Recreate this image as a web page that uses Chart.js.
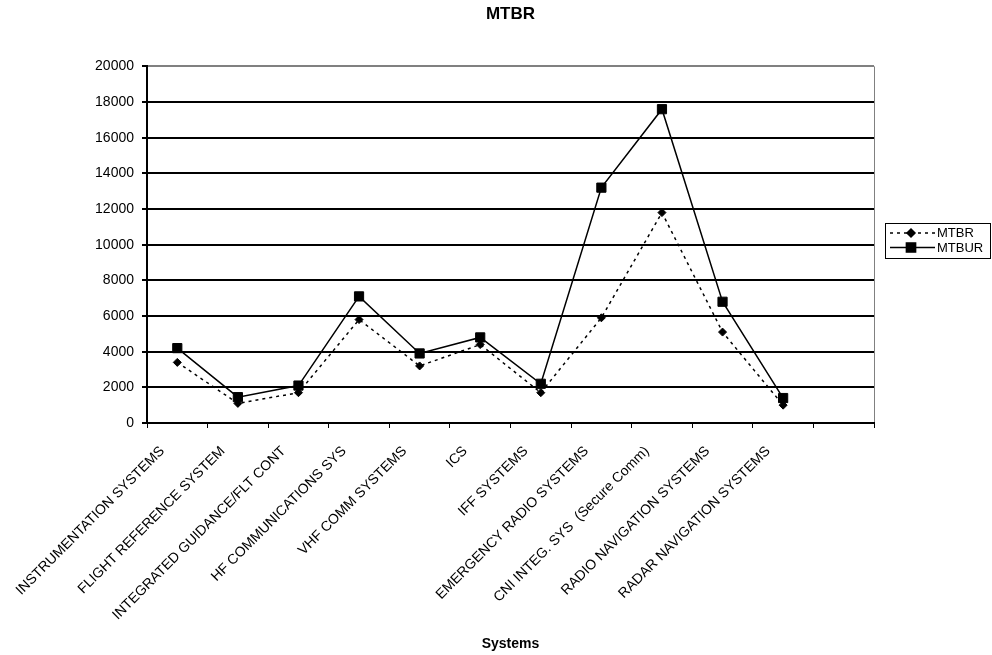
<!DOCTYPE html>
<html lang="en">
<head>
    <meta charset="UTF-8">
    <title>MTBR</title>
    <script src="https://cdn.jsdelivr.net/npm/chart.js"></script>
    <style>
        body {
            margin: 0;
            background: #fff;
        }
        .chart-box {
            width: 992px;
            height: 655px;
        }
    </style>
</head>
<body>
    <div class="chart-box">
        <canvas id="mtbrChart"></canvas>
    </div>

    <script>
        // Systems on the x axis (last slot is left empty)
        const systems = [
            'INSTRUMENTATION SYSTEMS',
            'FLIGHT REFERENCE SYSTEM',
            'INTEGRATED GUIDANCE/FLT CONT',
            'HF COMMUNICATIONS SYS',
            'VHF COMM SYSTEMS',
            'ICS',
            'IFF SYSTEMS',
            'EMERGENCY RADIO SYSTEMS',
            'CNI INTEG. SYS  (Secure Comm)',
            'RADIO NAVIGATION SYSTEMS',
            'RADAR NAVIGATION SYSTEMS',
            ''
        ];

        const mtbr  = [3400, 1100, 1700, 5800, 3200, 4400, 1700, 5900, 11800, 5100, 1000];
        const mtbur = [4200, 1450, 2100, 7100, 3900, 4800, 2200, 13200, 17600, 6800, 1400];

        const yMax = 20000;
        const yStep = 2000;

        const FONT = '"Liberation Sans", Arial, sans-serif';
        const FRAME_GRAY = '#808080';

        // Boxed legend on the right, each entry shows line style + marker
        const boxedLegend = {
            id: 'boxedLegend',
            afterDraw(chart) {
                const ctx = chart.ctx;
                const area = chart.chartArea;
                const x = area.right + 11;
                const y = 223;
                const w = 105;
                const h = 35;
                ctx.save();
                ctx.strokeStyle = '#000';
                ctx.lineWidth = 1;
                ctx.strokeRect(x + 0.5, y + 0.5, w, h);

                chart.data.datasets.forEach((ds, i) => {
                    const rowY = y + 10 + i * 14.5;
                    ctx.beginPath();
                    ctx.setLineDash(ds.borderDash || []);
                    ctx.lineWidth = ds.borderWidth;
                    ctx.strokeStyle = ds.borderColor;
                    ctx.moveTo(x + 5, rowY);
                    ctx.lineTo(x + 50, rowY);
                    ctx.stroke();
                    ctx.setLineDash([]);
                    Chart.helpers.drawPoint(ctx, {
                        pointStyle: ds.pointStyle,
                        radius: ds.pointRadius,
                        borderWidth: 1
                    }, x + 26, rowY);
                    ctx.fillStyle = '#000';
                    ctx.font = '13px ' + FONT;
                    ctx.textBaseline = 'middle';
                    ctx.textAlign = 'left';
                    ctx.fillText(ds.label, x + 52, rowY + 0.5);
                });
                ctx.restore();
            }
        };

        function initChart() {
            const ctx = document.getElementById('mtbrChart').getContext('2d');
            new Chart(ctx, {
                type: 'line',
                data: {
                    labels: systems,
                    datasets: [{
                        label: 'MTBR',
                        data: mtbr,
                        borderColor: '#000',
                        backgroundColor: '#000',
                        borderWidth: 1.5,
                        borderDash: [3, 4],
                        pointStyle: 'rectRot',
                        pointRadius: 4,
                        pointBorderWidth: 1,
                        tension: 0,
                        order: 1
                    }, {
                        label: 'MTBUR',
                        data: mtbur,
                        borderColor: '#000',
                        backgroundColor: '#000',
                        borderWidth: 1.5,
                        pointStyle: 'rect',
                        pointRadius: 6.5,
                        pointBorderWidth: 1,
                        tension: 0,
                        order: 0
                    }]
                },
                options: {
                    responsive: true,
                    maintainAspectRatio: false,
                    animation: false,
                    layout: {
                        padding: { right: 118 }
                    },
                    plugins: {
                        legend: { display: false },
                        tooltip: { enabled: false },
                        title: {
                            display: true,
                            text: 'MTBR',
                            fullSize: false,
                            color: '#000',
                            font: { family: FONT, size: 17, weight: 'bold' },
                            padding: { top: 4, bottom: 42 }
                        }
                    },
                    scales: {
                        x: {
                            offset: true,
                            afterFit: (scale) => { scale.height = 232; },
                            border: { color: '#000', width: 2 },
                            grid: {
                                offset: true,
                                drawOnChartArea: true,
                                lineWidth: 1,
                                color: (c) => c.index === undefined ? FRAME_GRAY : 'rgba(0,0,0,0)',
                                tickColor: '#000',
                                tickLength: 5
                            },
                            ticks: {
                                autoSkip: false,
                                minRotation: 45,
                                maxRotation: 45,
                                padding: 15,
                                labelOffset: -15,
                                color: '#000',
                                font: { family: FONT, size: 14 }
                            },
                            title: {
                                display: true,
                                text: 'Systems',
                                color: '#000',
                                font: { family: FONT, size: 14, weight: 'bold' },
                                padding: { top: 0, bottom: 2 }
                            }
                        },
                        y: {
                            min: 0,
                            max: yMax,
                            afterFit: (scale) => { scale.width = 147; },
                            border: { color: '#000', width: 2 },
                            grid: {
                                lineWidth: 2,
                                color: (c) => c.tick && c.tick.value === yMax ? FRAME_GRAY : '#000',
                                tickColor: '#000',
                                tickLength: 5
                            },
                            ticks: {
                                stepSize: yStep,
                                padding: 8,
                                color: '#000',
                                font: { family: FONT, size: 14 },
                                callback: (v) => String(v)
                            }
                        }
                    }
                },
                plugins: [boxedLegend]
            });
        }

        document.addEventListener('DOMContentLoaded', initChart);
    </script>
</body>
</html>
